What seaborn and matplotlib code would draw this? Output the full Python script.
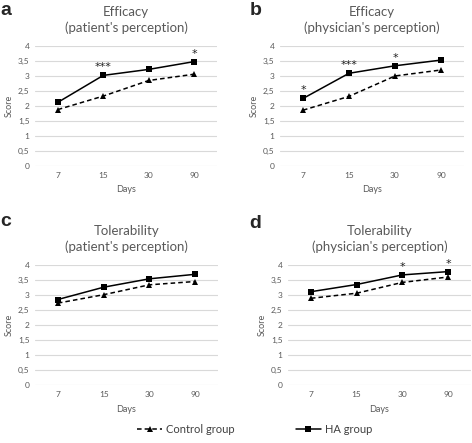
import numpy as np
import pandas as pd
import seaborn as sns
import matplotlib.pyplot as plt
from matplotlib.ticker import FuncFormatter, MultipleLocator

days = ['7', '15', '30', '90']

# score per time point (HA group / control group)
eff_pat_ha = [2.12, 3.02, 3.22, 3.48]
eff_pat_ctrl = [1.88, 2.33, 2.85, 3.06]
eff_phy_ha = [2.25, 3.09, 3.34, 3.53]
eff_phy_ctrl = [1.86, 2.32, 3.00, 3.20]
tol_pat_ha = [2.85, 3.26, 3.54, 3.69]
tol_pat_ctrl = [2.73, 3.01, 3.34, 3.45]
tol_phy_ha = [3.11, 3.35, 3.67, 3.78]
tol_phy_ctrl = [2.89, 3.06, 3.42, 3.60]

# significance marks over the HA points
stars_a = ['', '***', '', '*']
stars_b = ['*', '***', '*', '']
stars_c = ['', '', '', '']
stars_d = ['', '', '*', '*']

titles = ['Efficacy\n(patient\'s perception)', 'Efficacy\n(physician\'s perception)',
          'Tolerability\n(patient\'s perception)', 'Tolerability\n(physician\'s perception)']
letters = ['a', 'b', 'c', 'd']

sns.set_theme(style='white')
plt.rcParams['font.family'] = ['Lato', 'DejaVu Sans']

grey = '#595959'
fig = plt.figure(figsize=(4.72, 4.43), dpi=100)

boxes = [
    [0.0742, 0.6253, 0.3856, 0.2709],
    [0.5932, 0.6253, 0.3898, 0.2709],
    [0.0742, 0.1309, 0.3877, 0.2709],
    [0.6102, 0.1309, 0.3877, 0.2709],
]
panels = [
    (eff_pat_ha, eff_pat_ctrl, stars_a),
    (eff_phy_ha, eff_phy_ctrl, stars_b),
    (tol_pat_ha, tol_pat_ctrl, stars_c),
    (tol_phy_ha, tol_phy_ctrl, stars_d),
]
letter_pos = [(0.0, 0.995), (0.528, 0.995), (0.0, 0.52), (0.528, 0.515)]

def comma_fmt(v, pos):
    s = f'{v:g}'
    return s.replace('.', ',')

for i, (box, (ha, ctrl, stars)) in enumerate(zip(boxes, panels)):
    ax = fig.add_axes(box)
    df = pd.DataFrame({
        'Days': days * 2,
        'Score': ha + ctrl,
        'Group': ['HA group'] * 4 + ['Control group'] * 4,
    })
    sns.lineplot(data=df, x='Days', y='Score', hue='Group', style='Group',
                 hue_order=['Control group', 'HA group'],
                 style_order=['Control group', 'HA group'],
                 palette={'HA group': 'black', 'Control group': 'black'},
                 markers={'HA group': 's', 'Control group': '^'},
                 dashes={'HA group': '', 'Control group': (3, 2)},
                 markersize=5, linewidth=1.1, markeredgewidth=0,
                 sort=False, legend=(i == 0), ax=ax, zorder=3)
    for j, s in enumerate(stars):
        if s:
            ax.text(j, ha[j] + 0.1, s, ha='center', va='bottom', fontsize=8,
                    family='DejaVu Sans', color='#222222')
    ax.set_xlim(-0.5, 3.5)
    ax.set_ylim(0, 4)
    ax.yaxis.set_major_locator(MultipleLocator(0.5))
    ax.yaxis.set_major_formatter(FuncFormatter(comma_fmt))
    ax.grid(axis='y', color='#d9d9d9', linewidth=0.8)
    ax.grid(axis='x', visible=False)
    for sp in ax.spines.values():
        sp.set_visible(False)
    ax.tick_params(axis='both', length=0, labelsize=6, labelcolor=grey, pad=4)
    ax.set_xlabel('Days', fontsize=6.5, color=grey, labelpad=5)
    ax.set_ylabel('Score', fontsize=6.5, color=grey, labelpad=3)
    ax.set_title(titles[i], fontsize=9.5, color=grey, pad=10, linespacing=1.3)
    fig.text(letter_pos[i][0], letter_pos[i][1], letters[i], fontsize=14,
             fontweight='bold', family='Liberation Sans', va='top', ha='left')
    if i == 0:
        handles, labels = ax.get_legend_handles_labels()
        ax.get_legend().remove()

fig.legend(handles, labels, loc='lower center', bbox_to_anchor=(0.54, -0.005),
           ncol=2, frameon=False, fontsize=8, columnspacing=5.5, handlelength=2.2,
           handletextpad=0.4, labelcolor='#404040')

fig.savefig('out.png', dpi=100)
